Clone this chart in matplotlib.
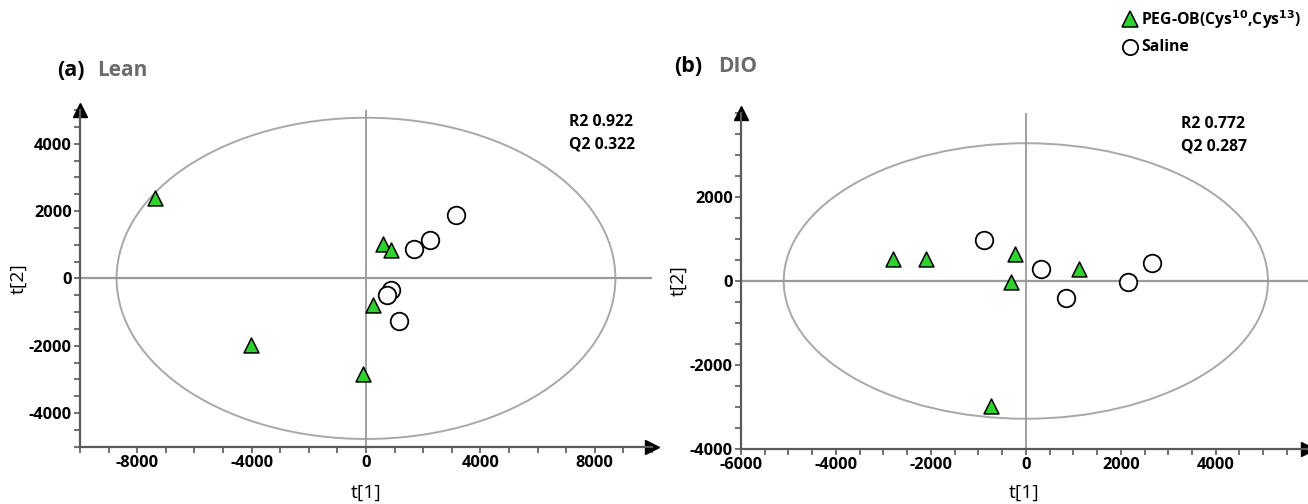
import numpy as np
import matplotlib
matplotlib.use("Agg")
import matplotlib.pyplot as plt
from matplotlib.patches import Ellipse
from matplotlib.lines import Line2D
from matplotlib.ticker import MultipleLocator

plt.rcParams['font.family'] = ['Open Sans', 'DejaVu Sans']
plt.rcParams['mathtext.default'] = 'bf'
plt.rcParams['axes.unicode_minus'] = False

# Lean panel scores
lean_peg_t1 = [-7370, 580, 860, 250, -4010, -90]
lean_peg_t2 = [2380, 1030, 840, -790, -1980, -2830]
lean_sal_t1 = [3140, 2240, 1680, 870, 750, 1150]
lean_sal_t2 = [1870, 1140, 880, -340, -490, -1280]

# DIO panel scores
dio_peg_t1 = [-2790, -2100, -220, -320, 1110, -740]
dio_peg_t2 = [520, 520, 640, -20, 280, -2980]
dio_sal_t1 = [-890, 310, 850, 2160, 2660]
dio_sal_t2 = [970, 280, -410, -20, 440]

lean_ellipse = (8720, 4770)
dio_ellipse = (5100, 3280)
lean_stats = ["R2 0.922", "Q2 0.322"]
dio_stats = ["R2 0.772", "Q2 0.287"]

lean_xticks = [-8000, -4000, 0, 4000, 8000]
lean_yticks = [-4000, -2000, 0, 2000, 4000]
dio_xticks = [-6000, -4000, -2000, 0, 2000, 4000]
dio_yticks = [-4000, -2000, 0, 2000]

green = '#2fd12f'
axcol = '#5a5a5a'
gridcol = '#9a9a9a'


def draw_panel(ax, peg_x, peg_y, sal_x, sal_y, ell, xlim, ylim, xticks, yticks,
               xmin, ymin, stats, stats_x, stats_y, xlab_y, ylab_x):
    ax.set_xlim(*xlim)
    ax.set_ylim(*ylim)
    ax.add_patch(Ellipse((0, 0), 2 * ell[0], 2 * ell[1], fill=False,
                         edgecolor='#a8a8a8', lw=1.4, zorder=1))
    ax.axhline(0, color=gridcol, lw=1.6, zorder=1)
    ax.axvline(0, color=gridcol, lw=1.3, zorder=1)
    ax.scatter(peg_x, peg_y, marker='^', s=115, c=green, edgecolors='black',
               linewidths=1.1, zorder=3)
    ax.scatter(sal_x, sal_y, marker='o', s=160, c='white', edgecolors='black',
               linewidths=1.3, zorder=3)
    for side in ['top', 'right']:
        ax.spines[side].set_visible(False)
    for side in ['left', 'bottom']:
        ax.spines[side].set_color(axcol)
        ax.spines[side].set_linewidth(1.6)
    ax.plot(1, 0, '>', color='black', ms=10, transform=ax.transAxes, clip_on=False)
    ax.plot(0, 1, '^', color='black', ms=10, transform=ax.transAxes, clip_on=False)
    ax.set_xticks(xticks)
    ax.set_yticks(yticks)
    ax.xaxis.set_minor_locator(MultipleLocator(xmin))
    ax.yaxis.set_minor_locator(MultipleLocator(ymin))
    ax.tick_params(which='both', direction='out', length=4, width=1.2, color=axcol,
                   labelsize=11.8, pad=2)
    for lab in ax.get_xticklabels() + ax.get_yticklabels():
        lab.set_fontweight('bold')
    ax.set_xlabel('t[1]', fontsize=14)
    ax.set_ylabel('t[2]', fontsize=14)
    ax.xaxis.set_label_coords(0.5, xlab_y)
    ax.yaxis.set_label_coords(ylab_x, 0.5)
    ax.xaxis.label.set_va('center')
    ax.yaxis.label.set_va('center')
    ax.text(stats_x, stats_y[0], stats[0], transform=ax.transAxes, fontsize=11.3,
            fontweight='bold', va='center', ha='left')
    ax.text(stats_x, stats_y[1], stats[1], transform=ax.transAxes, fontsize=11.3,
            fontweight='bold', va='center', ha='left')


fig = plt.figure(figsize=(13.08, 5.04), dpi=100)
ax1 = fig.add_axes([80 / 1308, 57.3 / 504, 572 / 1308, 336.7 / 504])
ax2 = fig.add_axes([741 / 1308, 55 / 504, 567 / 1308, 336 / 504])

draw_panel(ax1, lean_peg_t1, lean_peg_t2, lean_sal_t1, lean_sal_t2, lean_ellipse,
           (-10000, 10000), (-5000, 5000), lean_xticks, lean_yticks, 1000, 500,
           lean_stats, 0.855, (0.964, 0.899), -0.1375, -0.108)

draw_panel(ax2, dio_peg_t1, dio_peg_t2, dio_sal_t1, dio_sal_t2, dio_ellipse,
           (-6000, 5943), (-4000, 4000), dio_xticks, dio_yticks, 500, 500,
           dio_stats, 0.776, (0.967, 0.899), -0.131, -0.111)

fig.text(57 / 1308, 0.861, '(a)', fontsize=15.5, fontweight='bold', va='center')
fig.text(97 / 1308, 0.861, 'Lean', fontsize=15, fontweight='bold', color='#6b6b6b', va='center')
fig.text(674 / 1308, 0.869, '(b)', fontsize=15.5, fontweight='bold', va='center')
fig.text(718 / 1308, 0.869, 'DIO', fontsize=15, fontweight='bold', color='#6b6b6b', va='center')

# legend drawn at figure level
fig.add_artist(Line2D([1130 / 1308], [1 - 19 / 504], transform=fig.transFigure,
                      marker='^', ls='', ms=12, mfc=green, mec='black', mew=1.1))
fig.add_artist(Line2D([1130 / 1308], [1 - 47 / 504], transform=fig.transFigure,
                      marker='o', ls='', ms=11, mfc='white', mec='black', mew=1.3))
fig.text(1141 / 1308, 1 - 20 / 504, 'PEG-OB(Cys$^{10}$,Cys$^{13}$)', fontsize=11.3,
         fontweight='bold', va='center', ha='left')
fig.text(1141 / 1308, 1 - 47 / 504, 'Saline', fontsize=11.3,
         fontweight='bold', va='center', ha='left')

fig.savefig('out.png', dpi=100)
